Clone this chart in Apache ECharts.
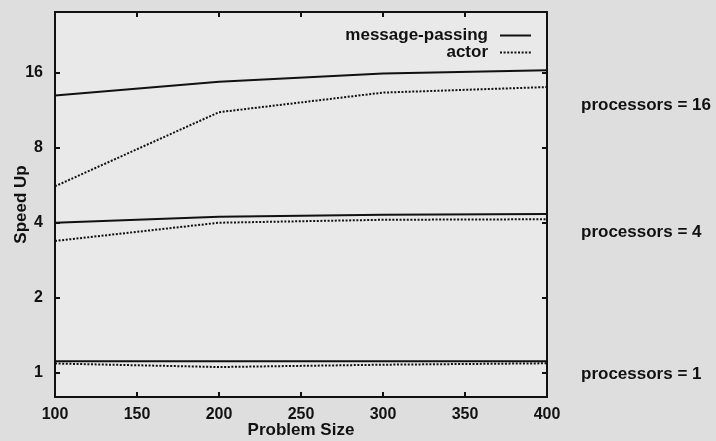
<!DOCTYPE html>
<html>
<head>
<meta charset="utf-8">
<script src="https://cdn.jsdelivr.net/npm/echarts@6/dist/echarts.min.js"></script>
<style>
html,body{margin:0;padding:0;background:#dedede;}
#c{width:716px;height:441px;}
</style>
</head>
<body>
<div id="c"></div>
<script>
var problemSizes = [100, 200, 300, 400];
var mp16 = [12.95, 14.7, 15.85, 16.35];
var actor16 = [5.6, 11.1, 13.3, 14.0];
var mp4 = [4.0, 4.23, 4.31, 4.34];
var actor4 = [3.38, 4.0, 4.11, 4.13];
var mp1 = [1.112, 1.112, 1.112, 1.112];
var actor1 = [1.09, 1.055, 1.078, 1.092];
var seriesNames = ['message-passing', 'actor'];
var processorLabels = ['processors = 16', 'processors = 4', 'processors = 1'];
var xTicks = [100, 150, 200, 250, 300, 350, 400];

function pairs(vals) {
  return problemSizes.map(function (x, i) { return [x, vals[i]]; });
}

var chart = echarts.init(document.getElementById('c'));
var FONT = '"Liberation Sans", Arial, sans-serif';
var INK = '#111111';
var solidStyle = { color: INK, width: 2, type: 'solid' };
var dotStyle = { color: INK, width: 2, type: [2, 1.6] };

function mk(name, vals, style) {
  return {
    name: name, type: 'line', data: pairs(vals), symbol: 'none', showSymbol: false,
    lineStyle: style, itemStyle: { color: INK }, animation: false, silent: true
  };
}

var tickStyle = { show: true, inside: true, length: 5, lineStyle: { color: INK, width: 2 } };
var lblStyle = { color: INK, fontFamily: FONT, fontWeight: 'bold', fontSize: 16 };
function legendFor(name, top) {
  return { data: [name], right: 184, top: top, padding: 0, align: 'right', itemWidth: 31, itemHeight: 14,
    itemStyle: { opacity: 0 },
    textStyle: { color: INK, fontFamily: FONT, fontWeight: 'bold', fontSize: 17, padding: [0, 7, 0, 0] } };
}

chart.setOption({
  backgroundColor: '#dedede',
  animation: false,
  grid: { left: 55, right: 169, top: 12, bottom: 44, containLabel: false, outerBoundsMode: 'none',
    show: true, backgroundColor: '#e9e9e9', borderColor: INK, borderWidth: 2 },
  legend: [legendFor(seriesNames[0], 27), legendFor(seriesNames[1], 44)],
  xAxis: [
    { type: 'value', min: xTicks[0], max: xTicks[xTicks.length - 1], interval: 50,
      name: 'Problem Size', nameLocation: 'middle', nameGap: 25, nameMoveOverlap: false,
      nameTextStyle: { color: INK, fontFamily: FONT, fontWeight: 'bold', fontSize: 17 },
      axisLine: { show: true, lineStyle: { color: INK, width: 2 } },
      axisTick: tickStyle, splitLine: { show: false },
      axisLabel: Object.assign({ margin: 10 }, lblStyle) },
    { type: 'value', position: 'top', min: xTicks[0], max: xTicks[xTicks.length - 1], interval: 50,
      axisLine: { show: true, lineStyle: { color: INK, width: 2 } },
      axisTick: tickStyle, splitLine: { show: false }, axisLabel: { show: false } }
  ],
  yAxis: [
    { type: 'log', logBase: 2, min: 0.8, max: 28,
      name: 'Speed Up', nameLocation: 'middle', nameGap: 25, nameMoveOverlap: false,
      nameTextStyle: { color: INK, fontFamily: FONT, fontWeight: 'bold', fontSize: 17 },
      axisLine: { show: true, lineStyle: { color: INK, width: 2 } },
      axisTick: tickStyle, splitLine: { show: false }, minorTick: { show: false },
      axisLabel: Object.assign({ margin: 12, showMinLabel: false, showMaxLabel: false }, lblStyle) },
    { type: 'log', logBase: 2, min: 0.8, max: 28, position: 'right',
      axisLine: { show: true, lineStyle: { color: INK, width: 2 } },
      axisTick: tickStyle, splitLine: { show: false }, axisLabel: { show: false } }
  ],
  graphic: processorLabels.map(function (t, i) {
    return { type: 'text', left: 581, top: [97, 224, 366][i],
      style: { text: t, fill: INK, font: 'bold 17px ' + FONT } };
  }),
  series: [
    mk(seriesNames[0], mp16, solidStyle),
    mk(seriesNames[1], actor16, dotStyle),
    mk(seriesNames[0], mp4, solidStyle),
    mk(seriesNames[1], actor4, dotStyle),
    mk(seriesNames[0], mp1, solidStyle),
    mk(seriesNames[1], actor1, dotStyle)
  ]
});
</script>
</body>
</html>
